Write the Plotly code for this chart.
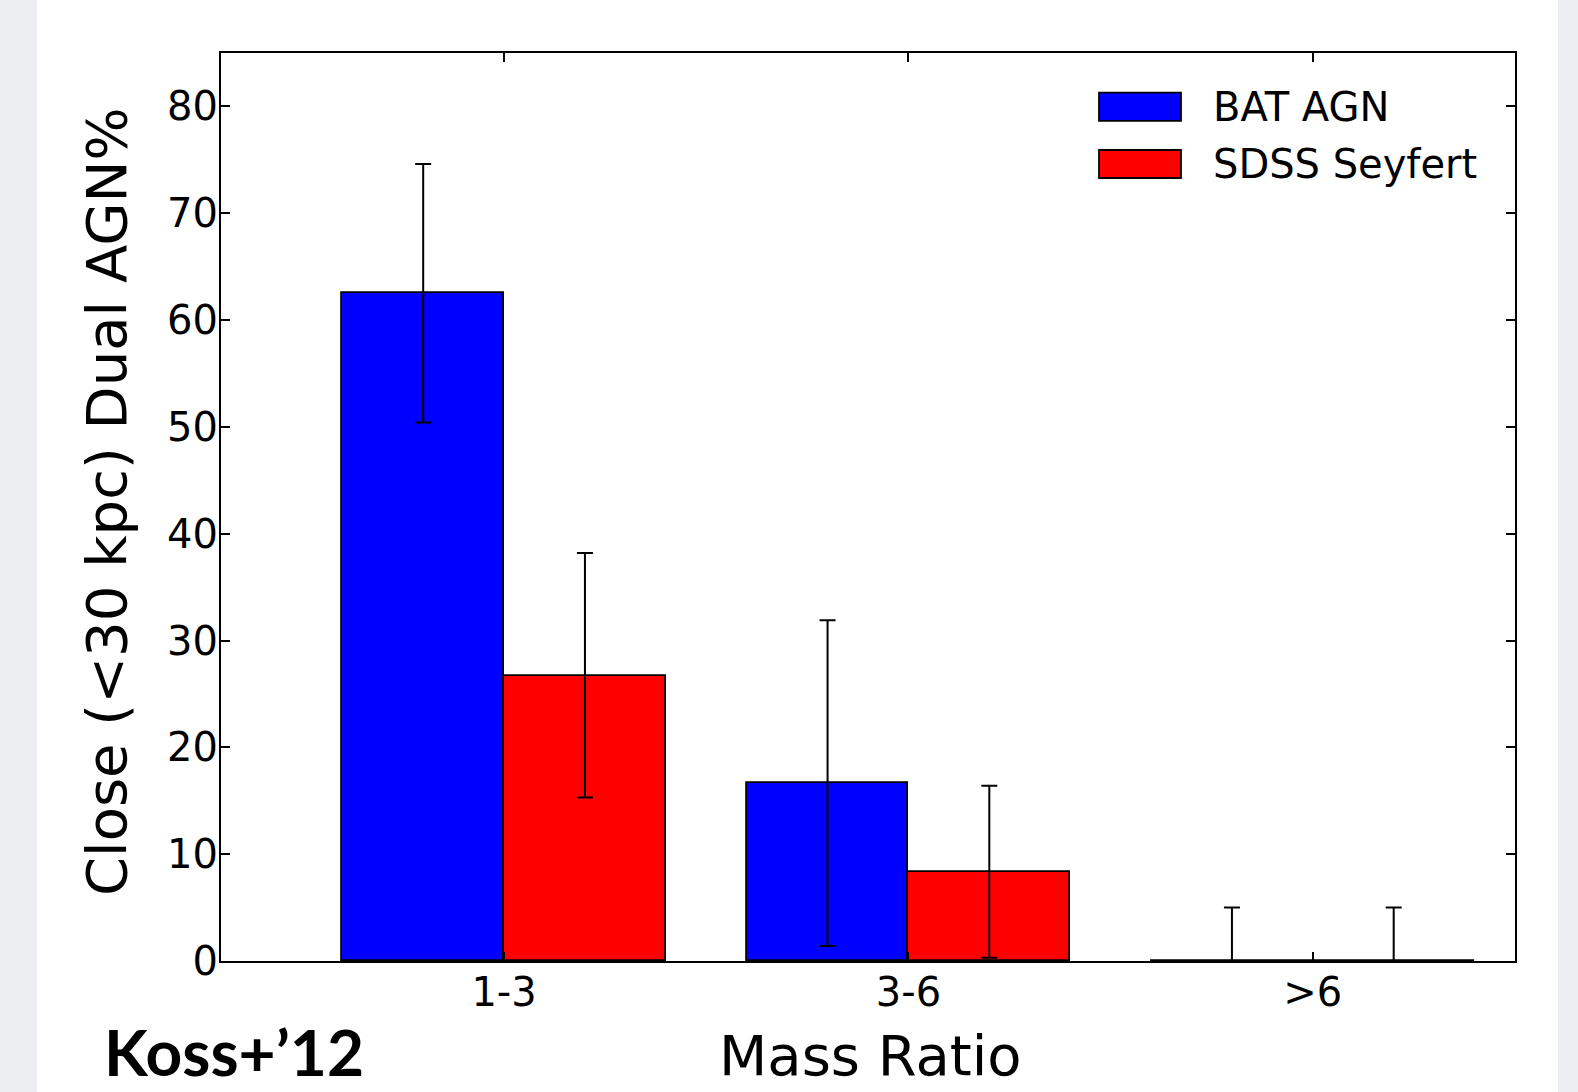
import plotly.graph_objects as go

categories = ["1-3", "3-6", ">6"]
series_names = ["BAT AGN", "SDSS Seyfert"]
bat_values = [62.5, 16.7, 0.0]
bat_err_plus = [12.1, 15.2, 5.0]
bat_err_minus = [12.1, 15.3, 0.0]
sdss_values = [26.7, 8.3, 0.0]
sdss_err_plus = [11.5, 8.1, 5.0]
sdss_err_minus = [11.4, 8.0, 0.0]
y_ticks = [0, 10, 20, 30, 40, 50, 60, 70, 80]
series_colors = ["#0000ff", "#ff0000"]

BAR_W = 0.4
FONT = "DejaVu Sans"

idx = list(range(len(categories)))
fig = go.Figure()
for name, vals, ep, em, col, off in [
    (series_names[0], bat_values, bat_err_plus, bat_err_minus, series_colors[0], -BAR_W / 2),
    (series_names[1], sdss_values, sdss_err_plus, sdss_err_minus, series_colors[1], BAR_W / 2),
]:
    fig.add_trace(go.Bar(
        x=[i + off for i in idx], y=vals, width=BAR_W, name=name,
        marker=dict(color=col, line=dict(color="black", width=1.8)),
        error_y=dict(type="data", array=ep, arrayminus=em, symmetric=False,
                     color="black", thickness=2, width=8),
        showlegend=False,
    ))

W, H = 1578, 1092
L, R, T, B = 221, 63, 53, 131
pw, ph = W - L - R, H - T - B


def px_x(p):
    return (p - L) / pw


def px_y(p):
    return (H - B - p) / ph


shapes = [
    dict(type="rect", xref="paper", yref="paper", x0=px_x(0), x1=px_x(37), y0=px_y(H), y1=px_y(0),
         fillcolor="#eceef1", line=dict(width=0), layer="below"),
    dict(type="rect", xref="paper", yref="paper", x0=px_x(1558), x1=px_x(W), y0=px_y(H), y1=px_y(0),
         fillcolor="#eceef1", line=dict(width=0), layer="below"),
]
annotations = []
leg_rows = [(92.6, 120.8), (150.0, 178.0)]
for (ya, yb), name, col in zip(leg_rows, series_names, series_colors):
    shapes.append(dict(type="rect", xref="paper", yref="paper",
                       x0=px_x(1099), x1=px_x(1181), y0=px_y(yb), y1=px_y(ya),
                       fillcolor=col, line=dict(color="black", width=1.8)))
    annotations.append(dict(xref="paper", yref="paper", x=px_x(1211), y=px_y((ya + yb) / 2),
                            text=name, showarrow=False, xanchor="left", yanchor="middle",
                            font=dict(family=FONT, size=40, color="black")))

annotations.append(dict(xref="paper", yref="paper", x=px_x(106), y=px_y(502),
                        text="Close (&lt;30 kpc) Dual AGN%", textangle=-90, showarrow=False,
                        xanchor="center", yanchor="middle",
                        font=dict(family=FONT, size=56, color="black")))
annotations.append(dict(xref="paper", yref="paper", x=px_x(870), y=px_y(1055),
                        text="Mass Ratio", showarrow=False, xanchor="center", yanchor="middle",
                        font=dict(family=FONT, size=56, color="black")))
annotations.append(dict(xref="paper", yref="paper", x=px_x(102), y=px_y(1092),
                        text="<b>Koss+’12</b>", showarrow=False, xanchor="left", yanchor="bottom",
                        font=dict(family="Lato", size=64, color="black")))

fig.update_layout(
    width=W, height=H,
    margin=dict(l=L, r=R, t=T, b=B, pad=0),
    paper_bgcolor="white", plot_bgcolor="white",
    bargap=0, showlegend=False,
    shapes=shapes, annotations=annotations,
    xaxis=dict(range=[-0.7, 2.5], tickvals=idx, ticktext=categories,
               showline=True, linecolor="black", linewidth=2, mirror="ticks",
               ticks="inside", ticklen=9, tickwidth=1.5, tickcolor="black",
               ticklabelstandoff=-5,
               showgrid=False, zeroline=False,
               tickfont=dict(family=FONT, size=40, color="black")),
    yaxis=dict(range=[0, 85], tickvals=y_ticks,
               showline=True, linecolor="black", linewidth=2, mirror="ticks",
               ticks="inside", ticklen=9, tickwidth=1.5, tickcolor="black",
               ticklabelstandoff=-7,
               showgrid=False, zeroline=False,
               tickfont=dict(family=FONT, size=40, color="black")),
)

fig.write_html("out.html", config={"displayModeBar": False},
               post_script="document.body.style.margin='0';document.body.style.overflow='hidden';")
